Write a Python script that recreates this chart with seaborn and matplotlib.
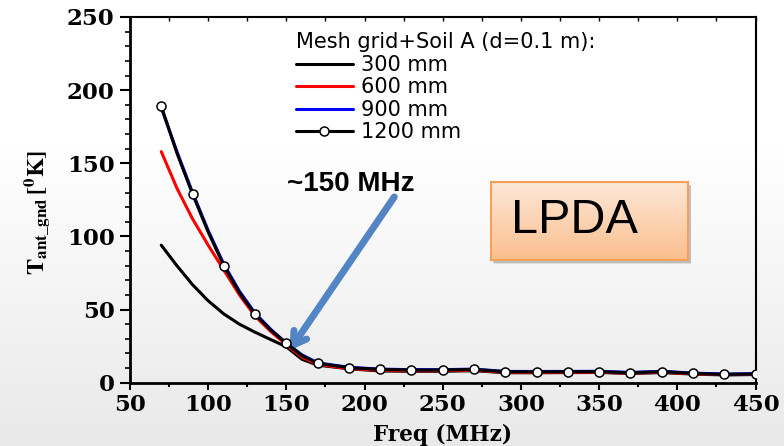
import numpy as np
import pandas as pd
import seaborn as sns
import matplotlib.pyplot as plt
from matplotlib.colors import LinearSegmentedColormap

# data (frequency in MHz, temperature in K)
freq = [70, 80, 90, 100, 110, 120, 130, 140, 150, 160, 170, 190, 210, 230,
        250, 270, 290, 310, 330, 350, 370, 390, 410, 430, 450]
t_300 = [94, 80, 67, 56, 47, 40, 34.5, 29.5, 24.5, 16, 12, 9.5, 8, 7.8,
         7.8, 8.2, 6.8, 6.8, 6.9, 7.0, 6.3, 6.9, 5.9, 5.3, 5.6]
t_600 = [158, 133, 112, 94, 77, 60, 45.5, 35, 26, 17.5, 12.5, 9.6, 8.5, 8.2,
         8.2, 8.6, 7.1, 7.1, 7.1, 7.2, 6.5, 7.2, 6.1, 5.5, 5.8]
t_900 = [188, 158, 130, 104, 81, 62.5, 47.5, 36.5, 27, 19, 13.6, 10.5, 9.3,
         8.9, 8.9, 9.3, 7.7, 7.7, 7.7, 7.8, 7.0, 7.8, 6.6, 5.9, 6.2]
t_1200 = [189, 157, 129, 103, 80, 61.5, 46.7, 36, 27, 18.5, 13.3, 10.3, 9.1,
          8.7, 8.7, 9.1, 7.5, 7.5, 7.5, 7.6, 6.8, 7.6, 6.4, 5.7, 6.0]

series = ['300 mm', '600 mm', '900 mm', '1200 mm']
colors = ['black', 'red', 'blue', 'black']

df = pd.DataFrame({
    'freq': freq * 4,
    'temp': t_300 + t_600 + t_900 + t_1200,
    'size': [s for s in series for _ in freq],
})

sns.set_style('ticks')
plt.rcParams['mathtext.fontset'] = 'stix'
for key in ['text.color', 'axes.labelcolor', 'xtick.color', 'ytick.color',
            'axes.edgecolor']:
    plt.rcParams[key] = 'black'

fig = plt.figure(figsize=(7.84, 4.46), dpi=100)

# slide-like background: white on top, light grey toward the bottom
bg = fig.add_axes([0, 0, 1, 1], zorder=-10)
rows = np.linspace(0, 1, 300)
grad = np.clip((rows - 0.33) / 0.67, 0, 1)[:, None]
cmap = LinearSegmentedColormap.from_list('bg', ['#ffffff', '#e9e9e9'])
bg.imshow(grad, aspect='auto', cmap=cmap, extent=[0, 1, 0, 1])
bg.axis('off')

ax = fig.add_axes([0.1658, 0.1419, 0.7979, 0.82])
ax.set_facecolor('none')

marks = [i for i, f in enumerate(freq) if f % 20 == 10]
for name, col in zip(series, colors):
    sub = df[df['size'] == name]
    if name == '1200 mm':
        sns.lineplot(data=sub, x='freq', y='temp', ax=ax, color=col, lw=2.2,
                     marker='o', ms=6.5, mfc='white', mec='black', mew=1.1,
                     markevery=marks, label=name, zorder=5)
    else:
        sns.lineplot(data=sub, x='freq', y='temp', ax=ax, color=col, lw=2.2,
                     label=name)

ax.set_xlim(50, 450)
ax.set_ylim(0, 250)
ax.set_xticks(np.arange(50, 451, 50))
ax.set_xticks(np.arange(75, 450, 50), minor=True)
ax.set_yticks(np.arange(0, 251, 50))
ax.set_yticks(np.arange(0, 251, 10), minor=True)

ax.tick_params(axis='x', which='major', direction='out', length=5, width=1.5, pad=3)
ax.tick_params(axis='x', which='minor', direction='out', length=3, width=1.5)
ax.tick_params(axis='y', which='major', direction='out', length=7, width=1.5, pad=4)
ax.tick_params(axis='y', which='minor', direction='out', length=3.5, width=1.2)
for lab in ax.get_xticklabels() + ax.get_yticklabels():
    lab.set_fontfamily('DejaVu Serif')
    lab.set_fontweight('bold')
    lab.set_fontsize(16.5)

top = ax.secondary_xaxis('top')
top.set_xticks(np.arange(50, 451, 25))
top.tick_params(direction='in', length=3, width=1, labeltop=False)
top.spines['top'].set_linewidth(1.2)

for side in ['left', 'bottom']:
    ax.spines[side].set_linewidth(2)
for side in ['top', 'right']:
    ax.spines[side].set_linewidth(1.5)

ax.set_xlabel('Freq (MHz)', family='DejaVu Serif', fontweight='bold',
              fontsize=15.5, labelpad=6)
ax.set_ylabel(r'$\mathbf{T}_{\mathbf{ant\_gnd}}\,\mathbf{[^{0}K]}$',
              fontsize=17.5)
ax.yaxis.set_label_coords(-0.125, 0.466)

leg = ax.legend(title='Mesh grid+Soil A (d=0.1 m):', loc='upper left',
                bbox_to_anchor=(0.265, 0.958), frameon=False, alignment='left',
                fontsize=15, title_fontsize=15, handlelength=2.75,
                handletextpad=0.4, labelspacing=0.12, borderpad=0,
                borderaxespad=0)
for line in leg.get_lines():
    line.set_linewidth(2.2)

# arrow pointing at the knee of the curves
ax.annotate('', xy=(152, 22), xytext=(219, 127),
            arrowprops=dict(arrowstyle='->,head_length=0.9,head_width=0.55',
                            color='#5384c3', lw=5, shrinkA=0, shrinkB=0))
ax.text(191, 135.5, '~150 MHz', ha='center', va='center', fontsize=20,
        fontweight='bold', family='Liberation Sans')

# LPDA label box with an orange gradient and a soft shadow
for k, a in enumerate([0.18, 0.25]):
    sh = fig.add_axes([0.626 + 0.004 - k * 0.001, 0.417 - 0.009 + k * 0.002,
                       0.252, 0.1756], zorder=1)
    sh.set_facecolor((0.4, 0.4, 0.4, a))
    sh.set_xticks([])
    sh.set_yticks([])
    for sp in sh.spines.values():
        sp.set_visible(False)

box = fig.add_axes([0.626, 0.417, 0.252, 0.1756], zorder=2)
cmap_box = LinearSegmentedColormap.from_list('box', ['#fde8d8', '#fbbf8e'])
box.imshow(np.linspace(0, 1, 100)[:, None], aspect='auto', cmap=cmap_box,
           extent=[0, 1, 0, 1])
box.set_xticks([])
box.set_yticks([])
for sp in box.spines.values():
    sp.set_color('#f7a05a')
    sp.set_linewidth(1.5)
box.text(0.1, 0.5, 'LPDA', ha='left', va='center', fontsize=35,
         family='Liberation Sans', color='black', transform=box.transAxes)

fig.savefig('out.png', dpi=100)
